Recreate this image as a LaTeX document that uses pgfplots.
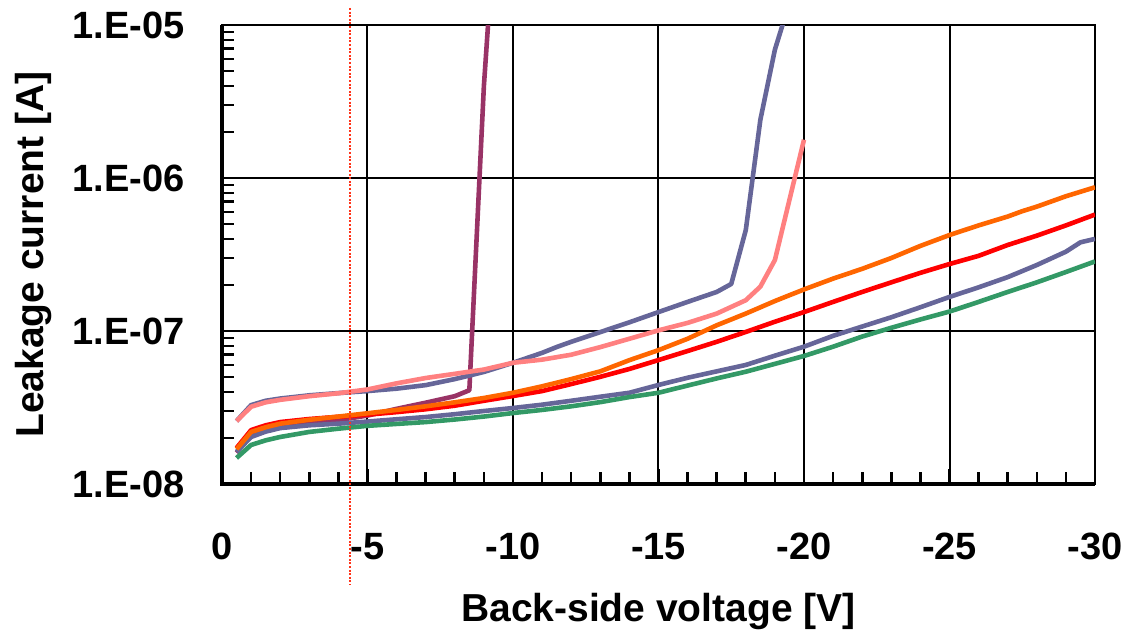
\documentclass[border=0pt]{standalone}
\usepackage{fontspec}
\setmainfont{Liberation Sans}
\usepackage{pgfplots}
\pgfplotsset{compat=1.18}

\definecolor{cMaroon}{HTML}{993366}
\definecolor{cSlate}{HTML}{666699}
\definecolor{cPink}{HTML}{FF8080}
\definecolor{cOrange}{HTML}{FF6600}
\definecolor{cRed}{HTML}{FF0000}
\definecolor{cGreen}{HTML}{339966}
\definecolor{cMarker}{HTML}{FF3319}

\begin{document}
\begin{tikzpicture}
\begin{axis}[
  scale only axis, width=436.5pt, height=229.5pt,
  xmin=0, xmax=30, ymode=log, ymin=1e-8, ymax=1e-5,
  xtick={0,5,...,30}, xticklabels={0,-5,-10,-15,-20,-25,-30},
  minor x tick num=4,
  ytick={1e-8,1e-7,1e-6,1e-5}, yticklabels={1.E-08,1.E-07,1.E-06,1.E-05},
  minor ytick={2e-8,3e-8,4e-8,5e-8,6e-8,7e-8,8e-8,9e-8,
               2e-7,3e-7,4e-7,5e-7,6e-7,7e-7,8e-7,9e-7,
               2e-6,3e-6,4e-6,5e-6,6e-6,7e-6,8e-6,9e-6},
  grid=major, major grid style={black, line width=1pt},
  tick align=inside, tick pos=left,
  tick style={black, line width=1.3pt},
  major tick length=7.5pt, minor tick length=6pt,
  axis line style={line width=1.1pt},
  xticklabel style={font=\fontsize{19}{21}\selectfont\bfseries, inner sep=0pt, anchor=north, yshift=-24.5pt},
  yticklabel style={font=\fontsize{19}{21}\selectfont\bfseries, inner sep=0pt, anchor=east, xshift=-18.5pt},
  xlabel={Back-side voltage [V]},
  ylabel={Leakage current [A]},
  xlabel style={font=\fontsize{19.5}{22}\selectfont\bfseries, inner sep=0pt, at={(axis description cs:0.5,-0.2375)}, anchor=north},
  ylabel style={font=\fontsize{19.5}{22}\selectfont\bfseries, inner sep=0pt, at={(axis description cs:-0.2371,0.5)}, anchor=north, rotate=0},
  every axis plot/.append style={line width=2.3pt, no markers, line join=round},
]

% breakdown near -9 V
\addplot[cMaroon] table {
0.5 1.60e-8
1   2.10e-8
1.5 2.28e-8
2   2.40e-8
3   2.52e-8
4   2.62e-8
5   2.80e-8
6   3.10e-8
7   3.40e-8
8   3.75e-8
8.5 4.10e-8
9   4.00e-6
9.5 1.00e-4
};

% upper slate, breakdown near -18 V
\addplot[cSlate] table {
0.5  2.58e-8
1    3.28e-8
1.5  3.50e-8
2    3.62e-8
3    3.80e-8
4    3.93e-8
5    4.05e-8
6    4.20e-8
7    4.43e-8
8    4.85e-8
9    5.40e-8
10   6.20e-8
11   7.20e-8
11.5 7.86e-8
12   8.50e-8
13   9.84e-8
14   1.14e-7
15   1.33e-7
16   1.55e-7
17   1.80e-7
17.5 2.03e-7
18   4.57e-7
18.5 2.40e-6
19   6.90e-6
19.5 1.40e-5
};

% lower slate
\addplot[cSlate] table {
0.5  1.62e-8
1    2.03e-8
1.5  2.20e-8
2    2.32e-8
3    2.42e-8
4    2.48e-8
5    2.56e-8
6    2.65e-8
7    2.74e-8
8    2.86e-8
9    3.00e-8
10   3.14e-8
11   3.30e-8
12   3.50e-8
13   3.72e-8
14   3.95e-8
15   4.44e-8
16   4.95e-8
17   5.45e-8
18   6.00e-8
19   6.90e-8
20   7.90e-8
21   9.30e-8
22   1.07e-7
23   1.23e-7
24   1.43e-7
25   1.67e-7
26   1.93e-7
27   2.25e-7
28   2.70e-7
29   3.30e-7
29.5 3.80e-7
30   4.00e-7
};

\addplot[cGreen] table {
0.5 1.48e-8
1   1.80e-8
1.5 1.93e-8
2   2.03e-8
3   2.19e-8
4   2.30e-8
5   2.40e-8
6   2.47e-8
7   2.54e-8
8   2.64e-8
9   2.76e-8
10  2.91e-8
11  3.05e-8
12  3.22e-8
13  3.43e-8
14  3.70e-8
15  3.95e-8
16  4.40e-8
17  4.90e-8
18  5.42e-8
19  6.10e-8
20  6.87e-8
21  7.90e-8
22  9.20e-8
23  1.05e-7
24  1.19e-7
25  1.34e-7
26  1.55e-7
27  1.80e-7
28  2.08e-7
29  2.43e-7
30  2.85e-7
};

\addplot[cRed] table {
0.5 1.72e-8
1   2.25e-8
1.5 2.42e-8
2   2.54e-8
3   2.66e-8
4   2.75e-8
5   2.84e-8
6   2.95e-8
7   3.08e-8
8   3.25e-8
9   3.50e-8
10  3.76e-8
11  4.05e-8
12  4.50e-8
13  5.02e-8
14  5.65e-8
15  6.46e-8
16  7.40e-8
17  8.50e-8
18  9.86e-8
19  1.15e-7
20  1.33e-7
21  1.55e-7
22  1.80e-7
23  2.08e-7
24  2.40e-7
25  2.74e-7
26  3.10e-7
27  3.65e-7
28  4.20e-7
29  4.90e-7
30  5.77e-7
};

\addplot[cOrange] table {
0.5  1.69e-8
1    2.19e-8
1.5  2.35e-8
2    2.48e-8
3    2.63e-8
4    2.76e-8
5    2.90e-8
6    3.05e-8
7    3.22e-8
8    3.42e-8
9    3.65e-8
10   3.95e-8
11   4.35e-8
12   4.85e-8
13   5.45e-8
14   6.45e-8
15   7.50e-8
16   8.90e-8
17   1.09e-7
18   1.30e-7
19   1.57e-7
20   1.87e-7
21   2.20e-7
22   2.55e-7
23   3.00e-7
24   3.60e-7
25   4.24e-7
26   4.90e-7
27   5.60e-7
27.5 6.07e-7
28   6.50e-7
29   7.60e-7
30   8.70e-7
};

% breakdown near -20 V
\addplot[cPink] table {
0.5  2.58e-8
1    3.20e-8
1.5  3.42e-8
2    3.55e-8
3    3.75e-8
4    3.92e-8
5    4.15e-8
6    4.55e-8
7    4.93e-8
8    5.25e-8
9    5.60e-8
10   6.20e-8
11   6.50e-8
12   7.00e-8
13   7.85e-8
14   8.90e-8
15   1.01e-7
16   1.13e-7
17   1.30e-7
18   1.59e-7
18.5 1.95e-7
19   2.91e-7
20   1.78e-6
};

\coordinate (vt) at (axis cs:4.4,1e-5);
\coordinate (vb) at (axis cs:4.4,1e-8);
\end{axis}

\draw[line width=1.6pt] (current axis.north west) -- (current axis.south west) -- (current axis.south east);
\draw[cMarker, line width=1.1pt, dash pattern=on 1pt off 0.8pt] ([yshift=8.5pt]vt) -- ([yshift=-50.5pt]vb);

\pgfresetboundingbox
\path[use as bounding box] ([xshift=-111pt, yshift=-73.5pt]current axis.south west) rectangle ([xshift=451pt, yshift=242pt]current axis.south west);
\end{tikzpicture}
\end{document}
